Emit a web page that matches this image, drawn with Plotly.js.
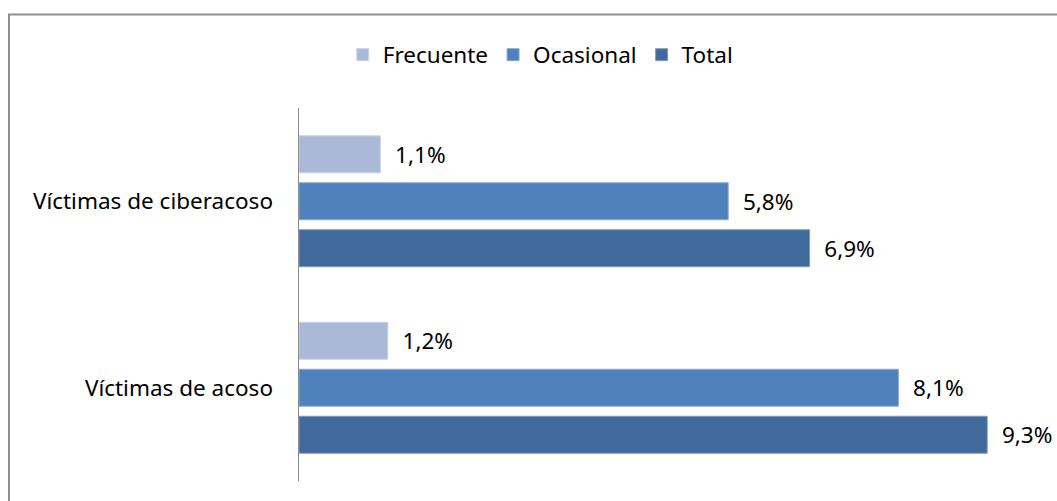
<!DOCTYPE html>
<html>
<head>
<meta charset="utf-8">
<script src="https://cdn.plot.ly/plotly-3.0.1.min.js"></script>
<style>
  html, body { margin: 0; padding: 0; background: #fff; }
  #chart { width: 1057px; height: 501px; }
</style>
</head>
<body>
<div id="chart"></div>
<script>
var categories = ["Víctimas de ciberacoso", "Víctimas de acoso"];
var seriesNames = ["Frecuente", "Ocasional", "Total"];
var frecuente = [1.1, 1.2];
var ocasional = [5.8, 8.1];
var total = [6.9, 9.3];

var colors = ["#AAB9D7", "#4F81BD", "#416A9C"];
var edgeColors = ["#C9D3E7", "#8AAAD3", "#7F9CC0"];
var values = [frecuente, ocasional, total];

var FONT = "Noto Sans, Open Sans, sans-serif";
var FS = 22.5;

var traces = values.map(function (v, i) {
  return {
    type: "bar",
    orientation: "h",
    name: seriesNames[i],
    y: categories,
    x: v,
    marker: { color: colors[i], line: { color: edgeColors[i], width: 1 } },
    texttemplate: "\u00a0\u00a0%{x:.1f}%",
    textposition: "outside",
    textfont: { family: FONT, size: FS, color: "#000" },
    cliponaxis: false,
    hoverinfo: "skip"
  };
});

var layout = {
  width: 1057,
  height: 501,
  margin: { l: 299, r: 18, t: 108, b: 20, pad: 0 },
  paper_bgcolor: "#fff",
  plot_bgcolor: "#fff",
  separators: ",.",
  barmode: "group",
  bargap: 0.244,
  bargroupgap: 0.213,
  font: { family: FONT, size: FS, color: "#000" },
  showlegend: true,
  legend: {
    orientation: "h",
    x: 0.326,
    xanchor: "center",
    y: 1.142,
    yanchor: "middle",
    traceorder: "normal",
    itemwidth: 30,
    font: { family: FONT, size: FS, color: "#000" },
    itemclick: false
  },
  xaxis: {
    range: [0, 10],
    visible: false,
    showgrid: false,
    zeroline: false,
    fixedrange: true
  },
  yaxis: {
    type: "category",
    autorange: "reversed",
    showline: true,
    linecolor: "#8C8C8C",
    linewidth: 1.5,
    ticks: "",
    showgrid: false,
    zeroline: false,
    ticklabelstandoff: 20,
    tickfont: { family: FONT, size: FS, color: "#000" },
    fixedrange: true
  },
  shapes: [{
    type: "rect",
    xref: "paper",
    yref: "paper",
    x0: (9 - 299) / 740,
    x1: (1062 - 299) / 740,
    y0: (481 - 510) / 373,
    y1: (481 - 14.5) / 373,
    line: { color: "#8E8E8E", width: 2 },
    fillcolor: "rgba(0,0,0,0)",
    layer: "below"
  }]
};

Plotly.newPlot("chart", traces, layout, { displayModeBar: false, staticPlot: true });
</script>
</body>
</html>
